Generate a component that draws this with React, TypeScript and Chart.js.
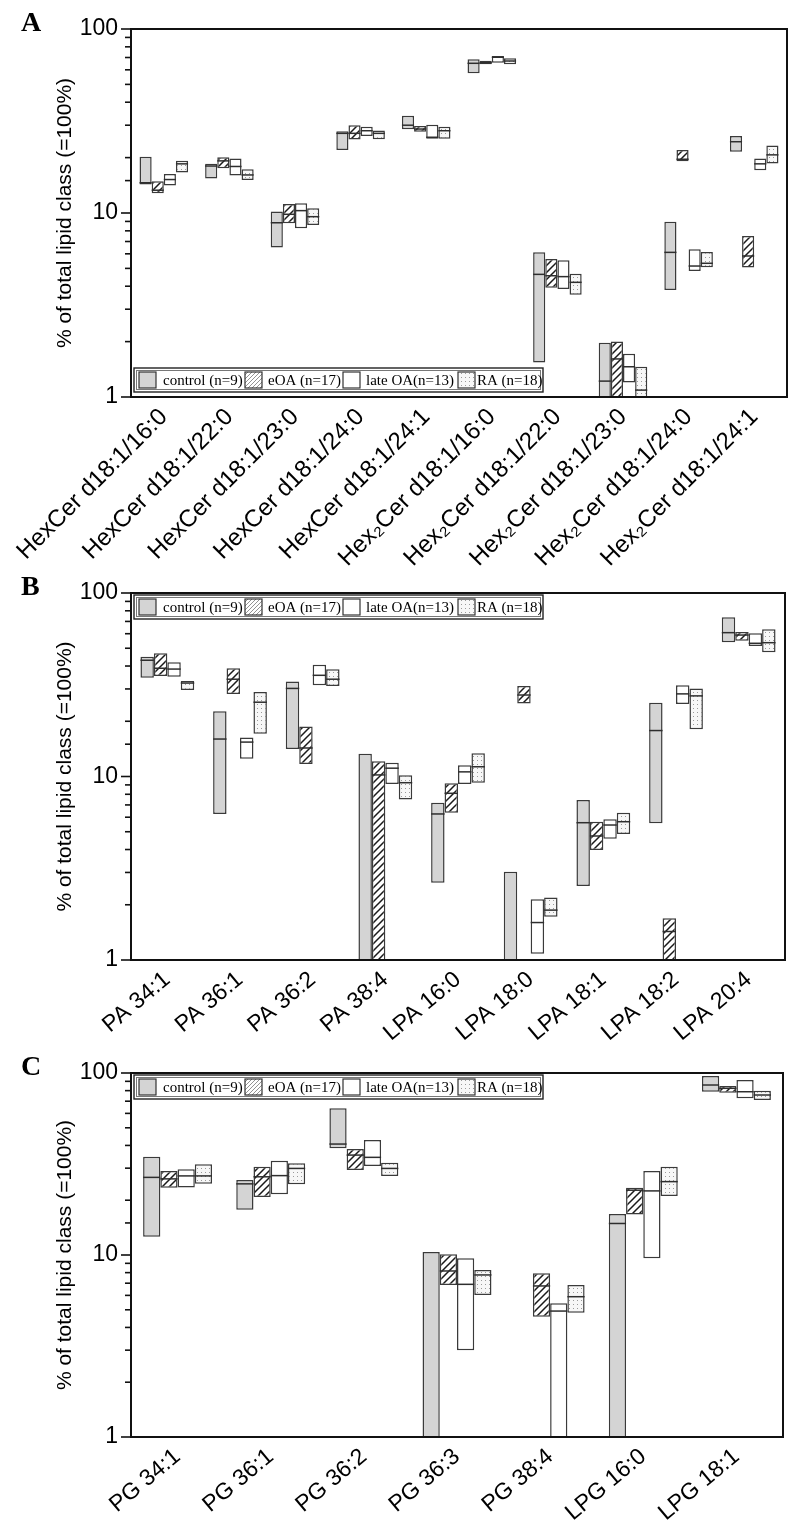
import React, { useEffect, useRef } from 'react';
import { Chart, registerables } from 'chart.js';

Chart.register(...registerables);

// [min, median, max] per category; null = not shown
type Stat = [number, number | null, number] | null;

const SANS = '"Liberation Sans", Arial, sans-serif';
const SERIF = '"Liberation Serif", "Times New Roman", serif';

const seriesNames = ['control (n=9)', 'eOA (n=17)', 'late OA(n=13)', 'RA (n=18)'];
const yTickLabels = [1, 10, 100];
const yTitle = '% of total lipid class (=100%)';

// ---------- Panel A ----------
const categoriesA = [
  'HexCer d18:1/16:0', 'HexCer d18:1/22:0', 'HexCer d18:1/23:0', 'HexCer d18:1/24:0', 'HexCer d18:1/24:1',
  'Hex₂Cer d18:1/16:0', 'Hex₂Cer d18:1/22:0', 'Hex₂Cer d18:1/23:0', 'Hex₂Cer d18:1/24:0', 'Hex₂Cer d18:1/24:1',
];
const controlA: Stat[] = [
  [14.3, 14.6, 20.2], [15.4, 18.0, 18.5], [6.5, 8.85, 10.2], [22.0, 27.1, 27.8], [28.5, 30.0, 33.8],
  [57.4, 65.1, 68.5], [1.54, 4.64, 6.11], [0.5, 1.22, 1.97], [3.82, 6.11, 8.97], [21.5, 24.4, 26.2],
];
const eoaA: Stat[] = [
  [12.8, 13.3, 14.9], [17.5, 19.2, 20.1], [8.8, 9.84, 11.2], [25.1, 27.1, 30.0], [27.6, 28.6, 29.7],
  [64.3, 65.6, 67.3], [3.93, 4.56, 5.63], [0.5, 1.61, 2.0], [19.1, 19.6, 22.0], [5.05, 5.84, 7.5],
];
const lateA: Stat[] = [
  [14.1, 15.2, 16.3], [16.0, 17.9, 19.8], [8.26, 10.3, 11.3], [26.2, 28.0, 29.4], [25.3, 25.8, 30.2],
  [65.6, 70.2, 71.3], [3.86, 4.51, 5.53], [1.2, 1.46, 1.72], [4.84, 5.15, 6.35], [17.1, 18.5, 19.8],
];
const raA: Stat[] = [
  [16.6, 18.5, 19.2], [15.1, 16.1, 17.3], [8.6, 9.55, 10.6], [25.2, 27.1, 28.1], [25.3, 28.0, 29.4],
  [64.3, 67.0, 69.3], [3.6, 4.2, 4.68], [0.5, 1.09, 1.46], [5.07, 5.33, 6.14], [18.6, 20.7, 23.3],
];

// ---------- Panel B ----------
const categoriesB = ['PA 34:1', 'PA 36:1', 'PA 36:2', 'PA 38:4', 'LPA 16:0', 'LPA 18:0', 'LPA 18:1', 'LPA 18:2', 'LPA 20:4'];
const controlB: Stat[] = [
  [34.5, 43.0, 45.0], [6.25, 16.0, 22.7], [14.1, 30.2, 32.9], [0.5, null, 13.3], [2.64, 6.25, 7.2],
  [0.5, null, 3.03], [2.53, 5.6, 7.45], [5.56, 17.8, 25.2], [53.9, 60.8, 73.7],
];
const eoaB: Stat[] = [
  [35.3, 38.9, 46.9], [28.2, 33.9, 38.9], [11.7, 14.3, 18.7], [0.5, 10.2, 12.1], [6.35, 8.1, 9.18],
  [25.0, 27.8, 31.1], [3.97, 4.74, 5.67], [0.5, 1.43, 1.69], [55.0, 59.0, 61.3],
];
const lateB: Stat[] = [
  [35.0, 38.5, 41.9], [12.5, 15.4, 16.3], [31.4, 35.6, 40.7], [9.1, 11.1, 11.9], [9.1, 10.6, 11.5],
  [1.08, 1.6, 2.14], [4.58, 5.44, 5.84], [24.8, 28.2, 31.4], [51.4, 53.2, 60.3],
];
const raB: Stat[] = [
  [29.6, 32.3, 33.1], [17.1, 25.4, 28.9], [31.1, 33.9, 38.4], [7.5, 9.25, 10.15], [9.25, 11.3, 13.4],
  [1.72, 1.87, 2.19], [4.86, 5.67, 6.35], [18.1, 27.5, 30.2], [47.5, 53.6, 63.4],
];

// ---------- Panel C ----------
const categoriesC = ['PG 34:1', 'PG 36:1', 'PG 36:2', 'PG 36:3', 'PG 38:4', 'LPG 16:0', 'LPG 18:1'];
const controlC: Stat[] = [
  [12.6, 26.7, 34.7], [17.7, 24.6, 25.8], [38.6, 40.7, 64.0], [0.5, null, 10.4], null,
  [0.5, 14.9, 16.8], [78.9, 85.9, 96.3],
];
const eoaC: Stat[] = [
  [23.4, 26.2, 28.9], [20.8, 26.9, 30.5], [29.3, 35.4, 38.2], [6.84, 8.17, 10.1], [4.58, 6.76, 7.93],
  [16.7, 22.7, 23.4], [78.0, 82.4, 84.8],
];
const lateC: Stat[] = [
  [23.5, 27.2, 29.6], [21.6, 27.3, 33.0], [30.8, 34.4, 42.8], [3.0, 6.9, 9.59], [0.5, 4.92, 5.43],
  [9.6, 22.5, 28.9], [72.6, 78.9, 91.5],
];
const raC: Stat[] = [
  [24.6, 27.2, 31.5], [24.5, 29.9, 31.9], [27.2, 29.9, 32.1], [6.03, 7.77, 8.27], [4.82, 5.9, 6.84],
  [21.1, 25.3, 30.5], [71.1, 75.7, 80.0],
];

const CONTROL_FILL = '#d4d4d4';
const BORDER = '#3a3a3a';

function makeHatch(color: string, size: number, lw: number): any {
  const c = document.createElement('canvas');
  c.width = size;
  c.height = size;
  const g = c.getContext('2d')!;
  g.fillStyle = '#ffffff';
  g.fillRect(0, 0, size, size);
  g.strokeStyle = color;
  g.lineWidth = lw;
  g.beginPath();
  g.moveTo(0, size);
  g.lineTo(size, 0);
  g.moveTo(-size / 2, size / 2);
  g.lineTo(size / 2, -size / 2);
  g.moveTo(size / 2, size * 1.5);
  g.lineTo(size * 1.5, size / 2);
  g.stroke();
  return g.createPattern(c, 'repeat');
}

function makeDots(): any {
  const c = document.createElement('canvas');
  c.width = 4;
  c.height = 4;
  const g = c.getContext('2d')!;
  g.fillStyle = '#f7f7f7';
  g.fillRect(0, 0, 4, 4);
  g.fillStyle = '#9a9a9a';
  g.fillRect(1, 1, 1, 1);
  return g.createPattern(c, 'repeat');
}

interface PanelProps {
  letter: string;
  categories: string[];
  series: Stat[][];
  top: number;
  height: number;
  plotTop: number;
  plotBottom: number;
  plotRight: number;
  rotation: number;
  labelSize: number;
  legendPos: 'top' | 'bottom';
}

function Panel(props: PanelProps) {
  const ref = useRef<HTMLCanvasElement>(null);
  useEffect(() => {
    const { letter, categories, series, top, height, plotTop, plotBottom, plotRight, rotation, labelSize, legendPos } = props;
    const canvas = ref.current!;
    const fills = [CONTROL_FILL, makeHatch('#1a1a1a', 7, 1.5), '#ffffff', makeDots()];
    const legendFills = [CONTROL_FILL, makeHatch('#777777', 4, 0.8), '#ffffff', makeDots()];

    const datasets = series.map((s, i) => ({
      label: seriesNames[i],
      data: s.map((d) => (d ? [d[0], d[2]] : null)),
      medians: s.map((d) => (d ? d[1] : null)),
      backgroundColor: fills[i],
      borderColor: BORDER,
      borderWidth: 1.5,
      borderSkipped: false,
      barPercentage: 1,
      categoryPercentage: 0.74,
      clip: 0,
    }));

    const decor = {
      id: 'decor',
      afterDatasetsDraw(chart: any) {
        const ctx = chart.ctx;
        const area = chart.chartArea;
        const yScale = chart.scales.y;
        // medians
        ctx.save();
        ctx.beginPath();
        ctx.rect(area.left, area.top, area.right - area.left, area.bottom - area.top);
        ctx.clip();
        ctx.strokeStyle = '#2e2e2e';
        ctx.lineWidth = 1.5;
        chart.data.datasets.forEach((ds: any, di: number) => {
          const meta = chart.getDatasetMeta(di);
          meta.data.forEach((el: any, i: number) => {
            const m = ds.medians[i];
            if (m == null || ds.data[i] == null) return;
            const y = yScale.getPixelForValue(m);
            const { x, width } = el.getProps(['x', 'width'], true);
            ctx.beginPath();
            ctx.moveTo(x - width / 2, y);
            ctx.lineTo(x + width / 2, y);
            ctx.stroke();
          });
        });
        ctx.restore();

        // frame
        ctx.save();
        ctx.strokeStyle = '#111';
        ctx.lineWidth = 2;
        ctx.strokeRect(area.left, area.top, area.right - area.left, area.bottom - area.top);
        // y tick marks
        ctx.lineWidth = 1.6;
        yScale.ticks.forEach((t: any) => {
          const v = t.value;
          const y = yScale.getPixelForValue(v);
          const major = yTickLabels.includes(v);
          ctx.beginPath();
          ctx.moveTo(area.left - (major ? 10 : 6), y);
          ctx.lineTo(area.left, y);
          ctx.stroke();
        });
        ctx.restore();

        // legend
        ctx.save();
        const lx = area.left + 3;
        const lw = 409;
        const lh = 24;
        const ly = legendPos === 'top' ? area.top + 2 : area.bottom - 5 - lh;
        ctx.fillStyle = '#fff';
        ctx.fillRect(lx, ly, lw, lh);
        ctx.strokeStyle = '#222';
        ctx.lineWidth = 1.4;
        ctx.strokeRect(lx, ly, lw, lh);
        ctx.strokeStyle = '#777';
        ctx.lineWidth = 1;
        ctx.strokeRect(lx + 2.5, ly + 2.5, lw - 5, lh - 5);
        const swX = [5, 111, 209, 324];
        const txX = [29, 134, 232, 343];
        ctx.font = `15px ${SERIF}`;
        ctx.textBaseline = 'middle';
        ctx.textAlign = 'left';
        for (let i = 0; i < 4; i++) {
          const sx = lx + swX[i];
          const sy = ly + 4;
          ctx.fillStyle = legendFills[i];
          ctx.fillRect(sx, sy, 17, 16);
          ctx.strokeStyle = '#333';
          ctx.lineWidth = 1.2;
          ctx.strokeRect(sx, sy, 17, 16);
          ctx.fillStyle = '#000';
          ctx.fillText(seriesNames[i], lx + txX[i], ly + lh / 2 + 1);
        }
        ctx.restore();

        // panel letter
        ctx.save();
        ctx.font = `bold 28px ${SERIF}`;
        ctx.fillStyle = '#000';
        ctx.textBaseline = 'alphabetic';
        ctx.textAlign = 'left';
        ctx.fillText(letter, 21, area.top + 2);
        ctx.restore();
      },
    };

    const chart = new Chart(canvas, {
      type: 'bar',
      data: { labels: categories, datasets: datasets as any },
      options: {
        responsive: false,
        animation: false,
        devicePixelRatio: 1,
        layout: { padding: { top: plotTop - top, right: 796 - plotRight, left: 0, bottom: 0 } },
        plugins: { legend: { display: false }, tooltip: { enabled: false } },
        scales: {
          x: {
            grid: { display: false, drawTicks: false },
            border: { display: false },
            ticks: {
              font: { family: SANS, size: labelSize },
              color: '#000',
              minRotation: rotation,
              maxRotation: rotation,
              autoSkip: false,
              padding: 6,
            },
            afterFit: (s: any) => {
              s.height = top + height - plotBottom;
            },
          },
          y: {
            type: 'logarithmic',
            min: 1,
            max: 100,
            grid: { display: true, drawOnChartArea: false, drawTicks: true, tickLength: 10, tickColor: 'rgba(0,0,0,0)' },
            border: { display: false },
            ticks: {
              autoSkip: false,
              font: { family: SANS, size: 23 },
              color: '#000',
              padding: 3,
              callback: (v: any) => (yTickLabels.includes(Number(v)) ? String(v) : ''),
            },
            title: {
              display: true,
              text: yTitle,
              font: { family: SANS, size: 21 },
              color: '#000',
              padding: { top: 53, bottom: 0 },
            },
            afterFit: (s: any) => {
              s.width = 131;
            },
          },
        },
      } as any,
      plugins: [decor],
    });
    return () => chart.destroy();
  }, []);
  return (
    <canvas
      ref={ref}
      width={796}
      height={props.height}
      style={{ position: 'absolute', left: 0, top: props.top, width: 796, height: props.height }}
    />
  );
}

export default function App() {
  return (
    <div style={{ position: 'absolute', left: 0, top: 0, width: 796, height: 1538, background: '#fff' }}>
      <Panel
        letter="A"
        categories={categoriesA}
        series={[controlA, eoaA, lateA, raA]}
        top={0}
        height={575}
        plotTop={29}
        plotBottom={397}
        plotRight={787}
        rotation={45}
        labelSize={24}
        legendPos="bottom"
      />
      <Panel
        letter="B"
        categories={categoriesB}
        series={[controlB, eoaB, lateB, raB]}
        top={575}
        height={480}
        plotTop={593}
        plotBottom={960}
        plotRight={785}
        rotation={40}
        labelSize={23}
        legendPos="top"
      />
      <Panel
        letter="C"
        categories={categoriesC}
        series={[controlC, eoaC, lateC, raC]}
        top={1055}
        height={483}
        plotTop={1073}
        plotBottom={1437}
        plotRight={783}
        rotation={40}
        labelSize={23}
        legendPos="top"
      />
    </div>
  );
}
